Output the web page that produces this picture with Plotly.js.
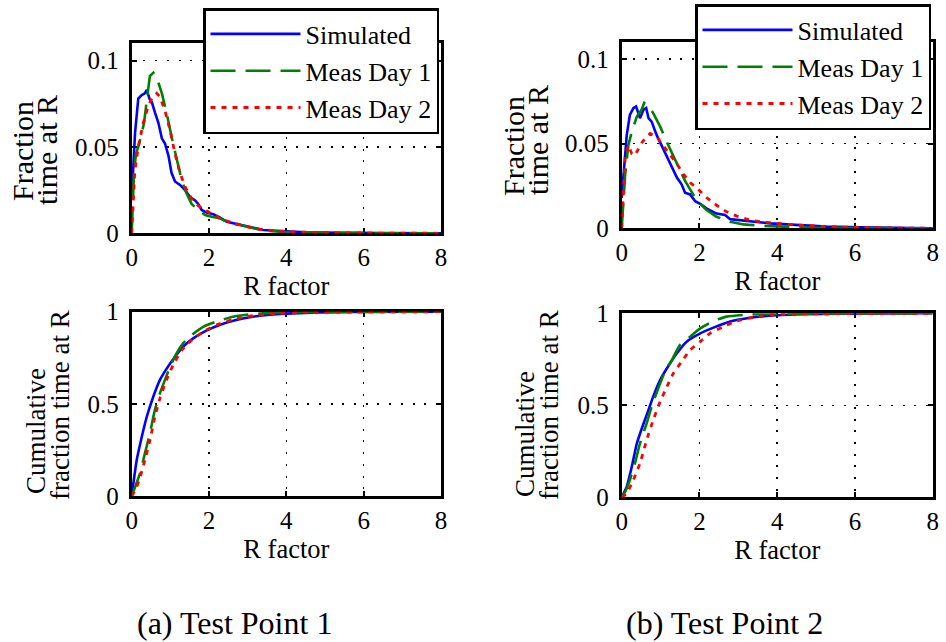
<!DOCTYPE html>
<html>
<head>
<meta charset="utf-8">
<script src="https://cdn.plot.ly/plotly-3.0.1.min.js"></script>
<style>html,body{margin:0;padding:0;background:#fff;}#chart{width:946px;height:642px;}</style>
</head>
<body>
<div id="chart"></div>
<script>
// ---------- DATA ----------
const seriesNames = ['Simulated', 'Meas Day 1', 'Meas Day 2'];
const xTickVals = [0, 2, 4, 6, 8];
const xTickText = ['0', '2', '4', '6', '8'];
const fracTickVals = [0, 0.05, 0.1];
const fracTickText = ['0', '0.05', '0.1'];
const cumTickVals = [0, 0.5, 1];
const cumTickText = ['0', '0.5', '1'];
const captions = ['(a) Test Point 1', '(b) Test Point 2'];

// Test Point 1 - fraction time at R
const tp1_sim_r = [0, 0.086, 0.17, 0.26, 0.34, 0.39, 0.46, 0.52, 0.60, 0.69, 0.78, 0.86, 0.95, 1.03, 1.12, 1.25, 1.38, 1.51, 1.64, 1.72, 1.81, 1.94, 2.11, 2.24, 2.46, 2.72, 2.97, 3.15, 3.4, 3.75, 4.1, 4.5, 4.9, 5.5, 6.5, 8];
const tp1_sim_f = [0.02, 0.058, 0.078, 0.080, 0.081, 0.083, 0.078, 0.076, 0.070, 0.064, 0.055, 0.052, 0.045, 0.035, 0.030, 0.028, 0.025, 0.021, 0.019, 0.017, 0.0135, 0.012, 0.011, 0.0096, 0.0067, 0.0054, 0.0042, 0.0029, 0.0019, 0.0015, 0.001, 0.0006, 0.0004, 0.0002, 0.0001, 0];
const tp1_d1_r = [0, 0.06, 0.11, 0.17, 0.26, 0.32, 0.39, 0.47, 0.56, 0.65, 0.78, 0.91, 1.03, 1.16, 1.29, 1.42, 1.55, 1.72, 1.9, 2.07, 2.28, 2.54, 2.8, 3.15, 3.49, 4.0, 4.6, 5.5, 8];
const tp1_d1_f = [0, 0.035, 0.046, 0.050, 0.058, 0.064, 0.077, 0.091, 0.093, 0.090, 0.081, 0.069, 0.056, 0.043, 0.031, 0.023, 0.017, 0.0135, 0.0106, 0.0096, 0.0087, 0.0058, 0.0048, 0.0029, 0.0015, 0.0006, 0.0003, 0.0001, 0];
const tp1_d2_r = [0, 0.08, 0.17, 0.3, 0.43, 0.52, 0.65, 0.73, 0.86, 0.99, 1.12, 1.25, 1.38, 1.55, 1.72, 1.9, 2.11, 2.37, 2.67, 2.97, 3.32, 3.75, 4.18, 4.87, 5.6, 8];
const tp1_d2_f = [0, 0.036, 0.050, 0.064, 0.074, 0.078, 0.081, 0.079, 0.071, 0.060, 0.046, 0.035, 0.027, 0.020, 0.016, 0.0135, 0.0106, 0.0077, 0.0058, 0.0039, 0.0023, 0.0013, 0.0008, 0.0004, 0.0002, 0];

// Test Point 2 - fraction time at R
const tp2_sim_r = [0, 0.06, 0.13, 0.21, 0.3, 0.37, 0.47, 0.56, 0.63, 0.69, 0.77, 0.9, 1.07, 1.24, 1.42, 1.54, 1.63, 1.76, 1.89, 2.02, 2.19, 2.44, 2.66, 2.79, 3.04, 3.39, 3.82, 4.25, 4.67, 5.27, 6.13, 7, 8];
const tp2_sim_f = [0.018, 0.036, 0.055, 0.067, 0.071, 0.072, 0.065, 0.070, 0.071, 0.065, 0.063, 0.055, 0.047, 0.038, 0.030, 0.026, 0.021, 0.020, 0.016, 0.0145, 0.0116, 0.0087, 0.0078, 0.0054, 0.0048, 0.0039, 0.0029, 0.0023, 0.0017, 0.001, 0.0006, 0.0003, 0];
const tp2_d1_r = [0, 0.09, 0.17, 0.26, 0.39, 0.51, 0.58, 0.69, 0.81, 0.99, 1.16, 1.33, 1.5, 1.63, 1.76, 1.93, 2.19, 2.44, 2.79, 3.13, 3.64, 4.25, 5, 8];
const tp2_d1_f = [0, 0.032, 0.049, 0.057, 0.066, 0.070, 0.074, 0.072, 0.068, 0.060, 0.051, 0.043, 0.034, 0.028, 0.023, 0.0165, 0.0107, 0.0068, 0.0039, 0.0023, 0.0014, 0.0008, 0.0003, 0];
const tp2_d2_r = [0, 0.09, 0.17, 0.26, 0.34, 0.5, 0.6, 0.73, 0.9, 1.07, 1.24, 1.42, 1.59, 1.76, 1.97, 2.19, 2.44, 2.7, 2.96, 3.3, 3.64, 3.99, 4.5, 5.1, 5.87, 7, 8];
const tp2_d2_f = [0, 0.042, 0.049, 0.044, 0.043, 0.050, 0.053, 0.056, 0.054, 0.049, 0.044, 0.038, 0.032, 0.027, 0.023, 0.018, 0.0136, 0.0097, 0.0072, 0.0048, 0.0037, 0.0029, 0.0019, 0.0012, 0.0006, 0.0002, 0];

// Test Point 1 - cumulative
const tp1_sim_cr = [0, 0.13, 0.26, 0.39, 0.56, 0.73, 0.9, 1.12, 1.33, 1.59, 1.93, 2.27, 2.7, 3.13, 3.65, 4.16, 4.85, 5.7, 8];
const tp1_sim_c = [0, 0.195, 0.32, 0.43, 0.54, 0.63, 0.69, 0.756, 0.81, 0.855, 0.897, 0.928, 0.955, 0.973, 0.985, 0.991, 0.996, 0.998, 1];
const tp1_d1_cr = [0, 0.09, 0.21, 0.34, 0.47, 0.6, 0.73, 0.86, 0.99, 1.16, 1.33, 1.55, 1.85, 2.19, 2.62, 3.13, 3.65, 4.42, 8];
const tp1_d1_c = [0, 0.05, 0.12, 0.23, 0.34, 0.467, 0.557, 0.63, 0.70, 0.774, 0.828, 0.873, 0.918, 0.946, 0.973, 0.987, 0.994, 0.998, 1];
const tp1_d2_cr = [0, 0.09, 0.21, 0.34, 0.47, 0.6, 0.73, 0.9, 1.07, 1.29, 1.55, 1.85, 2.19, 2.62, 3.13, 3.65, 4.42, 8];
const tp1_d2_c = [0, 0.03, 0.096, 0.195, 0.30, 0.43, 0.53, 0.63, 0.71, 0.79, 0.846, 0.891, 0.928, 0.958, 0.978, 0.989, 0.996, 1];

// Test Point 2 - cumulative
const tp2_sim_cr = [0, 0.13, 0.26, 0.39, 0.56, 0.69, 0.81, 0.99, 1.16, 1.42, 1.67, 2.02, 2.36, 2.79, 3.3, 3.99, 4.67, 5.7, 8];
const tp2_sim_c = [0, 0.058, 0.167, 0.293, 0.40, 0.475, 0.547, 0.638, 0.70, 0.783, 0.846, 0.891, 0.922, 0.955, 0.976, 0.989, 0.995, 0.998, 1];
const tp2_d1_cr = [0, 0.09, 0.21, 0.34, 0.47, 0.64, 0.77, 0.94, 1.11, 1.29, 1.5, 1.76, 2.02, 2.36, 2.7, 3.13, 3.56, 8];
const tp2_d1_c = [0, 0.03, 0.094, 0.185, 0.293, 0.40, 0.493, 0.592, 0.683, 0.746, 0.828, 0.873, 0.918, 0.958, 0.982, 0.991, 0.996, 1];
const tp2_d2_cr = [0, 0.13, 0.3, 0.47, 0.64, 0.81, 0.99, 1.16, 1.33, 1.54, 1.76, 2.02, 2.27, 2.62, 2.96, 3.39, 3.82, 4.42, 8];
const tp2_d2_c = [0, 0.022, 0.094, 0.185, 0.31, 0.42, 0.52, 0.60, 0.674, 0.737, 0.80, 0.846, 0.891, 0.928, 0.958, 0.978, 0.991, 0.996, 1];

// ---------- STYLE ----------
const FONT = 'Liberation Serif, Times New Roman, serif';
const styles = [
  {color: '#0000ff', width: 2.6, dash: 'solid'},
  {color: '#008000', width: 2.6, dash: '25px,10px'},
  {color: '#ff0000', width: 2.8, dash: '5px,6px'}
];

function tr(x, y, i, xa, ya, legend, showlegend, smooth) {
  return {
    x: x, y: y, type: 'scatter', mode: 'lines', name: seriesNames[i],
    xaxis: xa, yaxis: ya, legend: legend, showlegend: showlegend,
    line: Object.assign({}, styles[i], smooth ? {shape: 'spline', smoothing: 0.5} : {}),
    hoverinfo: 'skip'
  };
}

const data = [
  tr(tp1_sim_r, tp1_sim_f, 0, 'x', 'y', 'legend', true),
  tr(tp1_d1_r, tp1_d1_f, 1, 'x', 'y', 'legend', true),
  tr(tp1_d2_r, tp1_d2_f, 2, 'x', 'y', 'legend', true),
  tr(tp2_sim_r, tp2_sim_f, 0, 'x2', 'y2', 'legend2', true),
  tr(tp2_d1_r, tp2_d1_f, 1, 'x2', 'y2', 'legend2', true),
  tr(tp2_d2_r, tp2_d2_f, 2, 'x2', 'y2', 'legend2', true),
  tr(tp1_sim_cr, tp1_sim_c, 0, 'x3', 'y3', 'legend', false, true),
  tr(tp1_d1_cr, tp1_d1_c, 1, 'x3', 'y3', 'legend', false, true),
  tr(tp1_d2_cr, tp1_d2_c, 2, 'x3', 'y3', 'legend', false, true),
  tr(tp2_sim_cr, tp2_sim_c, 0, 'x4', 'y4', 'legend2', false, true),
  tr(tp2_d1_cr, tp2_d1_c, 1, 'x4', 'y4', 'legend2', false, true),
  tr(tp2_d2_cr, tp2_d2_c, 2, 'x4', 'y4', 'legend2', false, true)
];

const W = 946, H = 642;
const px = v => v / W;
const py = v => 1 - v / H;

function common() {
  return {
    showline: true, mirror: 'ticks', linewidth: 3, linecolor: 'black',
    ticks: 'inside', ticklen: 5, tickwidth: 2, tickcolor: 'black',
    showgrid: true, gridcolor: 'black', gridwidth: 1.5, griddash: '2px,9.7px',
    zeroline: false, automargin: false, layer: 'below traces', fixedrange: true,
    tickfont: {family: FONT, size: 25, color: 'black'}
  };
}
function xax(l, r, anchor) {
  return Object.assign(common(), {
    domain: [px(l), px(r)], anchor: anchor, range: [0, 8],
    tickmode: 'array', tickvals: xTickVals, ticktext: xTickText,
    title: {text: 'R factor', font: {family: FONT, size: 26.5, color: 'black'}, standoff: 4}
  });
}
function yax(top, bottom, anchor, vals, txt, range) {
  return Object.assign(common(), {
    domain: [py(bottom), py(top)], anchor: anchor, range: range,
    tickmode: 'array', tickvals: vals, ticktext: txt, ticklabelstandoff: 5
  });
}

function ytitle(text, x, y, size) {
  return {text: text, xref: 'paper', yref: 'paper', x: px(x), y: py(y), xanchor: 'center', yanchor: 'middle',
    textangle: -90, showarrow: false, font: {family: FONT, size: size, color: 'black'}};
}

const legendBase = {
  bgcolor: 'white', bordercolor: 'black', borderwidth: 2.5,
  font: {family: FONT, size: 26, color: 'black'},
  xanchor: 'left', yanchor: 'top', itemwidth: 90, tracegroupgap: 0
};

const layout = {
  width: W, height: H,
  margin: {l: 0, r: 0, t: 0, b: 0},
  paper_bgcolor: 'white', plot_bgcolor: 'white',
  font: {family: FONT, color: 'black'},
  xaxis: xax(131.7, 441, 'y'),
  yaxis: yax(43.3, 233.3, 'x', fracTickVals, fracTickText, [0, 0.11]),
  xaxis2: xax(621.7, 932.7, 'y2'),
  yaxis2: yax(42, 228.3, 'x2', fracTickVals, fracTickText, [0, 0.11]),
  xaxis3: xax(131.7, 441, 'y3'),
  yaxis3: yax(311.7, 496, 'x3', cumTickVals, cumTickText, [0, 1]),
  xaxis4: xax(621.7, 932.7, 'y4'),
  yaxis4: yax(313.3, 497.3, 'x4', cumTickVals, cumTickText, [0, 1]),
  legend: Object.assign({}, legendBase, {x: px(203), y: py(8)}),
  legend2: Object.assign({}, legendBase, {x: px(695), y: py(4)}),
  showlegend: true,
  annotations: [
    ytitle('Fraction', 23, 151, 30),
    ytitle('time at R', 46, 150, 30),
    ytitle('Fraction', 513, 146, 30),
    ytitle('time at R', 537, 140, 30),
    ytitle('Cumulative', 36, 431, 27),
    ytitle('fraction time at R', 60, 405, 27),
    ytitle('Cumulative', 525, 434, 27),
    ytitle('fraction time at R', 549, 405, 27),
    {text: captions[0], xref: 'paper', yref: 'paper', x: px(234), y: py(623), xanchor: 'center', yanchor: 'middle',
      showarrow: false, font: {family: FONT, size: 32, color: 'black'}},
    {text: captions[1], xref: 'paper', yref: 'paper', x: px(724), y: py(623), xanchor: 'center', yanchor: 'middle',
      showarrow: false, font: {family: FONT, size: 32, color: 'black'}}
  ]
};

Plotly.newPlot('chart', data, layout, {staticPlot: true, displayModeBar: false});
</script>
</body>
</html>
